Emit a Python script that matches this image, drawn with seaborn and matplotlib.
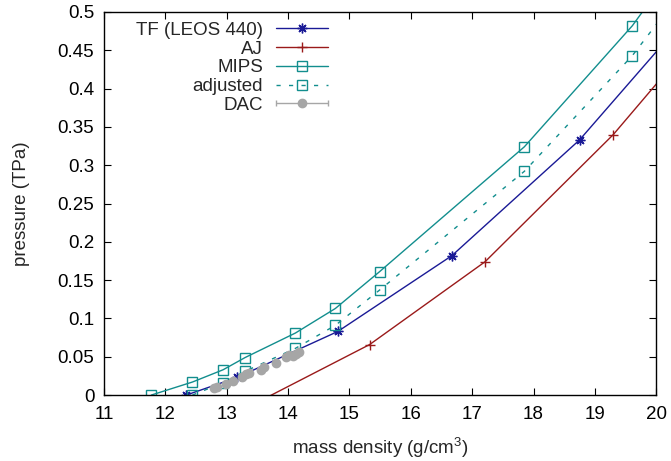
import matplotlib
matplotlib.use("Agg")
import matplotlib.pyplot as plt
import seaborn as sns
from matplotlib.legend_handler import HandlerErrorbar

# ---- data ----
tf_density = [12.34, 13.17, 14.81, 16.67, 18.75, 21.0]
tf_pressure = [0.0, 0.023, 0.083, 0.182, 0.333, 0.54]

aj_density = [13.0, 15.33, 17.21, 19.30, 21.0]
aj_pressure = [-0.03, 0.066, 0.174, 0.340, 0.50]

mips_density = [11.77, 12.44, 12.94, 13.30, 14.12, 14.77, 15.49, 17.85, 19.61, 21.5]
mips_pressure = [0.0, 0.017, 0.033, 0.049, 0.081, 0.113, 0.161, 0.324, 0.482, 0.69]

adj_density = [12.44, 12.94, 13.30, 14.12, 14.77, 15.49, 17.85, 19.61, 21.5]
adj_pressure = [0.0, 0.016, 0.031, 0.061, 0.091, 0.137, 0.292, 0.443, 0.64]

dac_density = [12.80, 12.84, 12.99, 13.10, 13.25, 13.32, 13.37, 13.56, 13.61,
               13.81, 13.97, 14.02, 14.08, 14.13, 14.17]
dac_pressure = [0.009, 0.010, 0.015, 0.019, 0.023, 0.028, 0.029, 0.033, 0.037,
                0.042, 0.050, 0.052, 0.051, 0.054, 0.056]

x_ticks = [11, 12, 13, 14, 15, 16, 17, 18, 19, 20]
y_ticks = [0, 0.05, 0.1, 0.15, 0.2, 0.25, 0.3, 0.35, 0.4, 0.45, 0.5]
y_ticklabels = ["0", "0.05", "0.1", "0.15", "0.2", "0.25", "0.3", "0.35", "0.4", "0.45", "0.5"]

# ---- style ----
sns.set_theme(style="ticks")
plt.rcParams["font.family"] = ["Liberation Sans", "DejaVu Sans"]
plt.rcParams["mathtext.fontset"] = "custom"
plt.rcParams["mathtext.rm"] = "Liberation Sans"
plt.rcParams["mathtext.it"] = "Liberation Sans:italic"
plt.rcParams["axes.linewidth"] = 1.0

FS = 13.5
c_tf = "#1a1a96"
c_aj = "#9a1a1a"
c_mips = "#128e8e"
c_dac = "#a6a6a6"

fig = plt.figure(figsize=(6.71, 4.61), dpi=100)
ax = fig.add_axes([0.155, 0.143, 0.823, 0.831])

sns.lineplot(x=tf_density, y=tf_pressure, ax=ax, color=c_tf, lw=1.0,
             marker=(8, 2, 0), markersize=7, markeredgewidth=1.0,
             markeredgecolor=c_tf, label="TF (LEOS 440)", sort=False)
sns.lineplot(x=aj_density, y=aj_pressure, ax=ax, color=c_aj, lw=1.0,
             marker="+", markersize=7, markeredgewidth=1.0,
             markeredgecolor=c_aj, label="AJ", sort=False)
sns.lineplot(x=mips_density, y=mips_pressure, ax=ax, color=c_mips, lw=1.0,
             marker="s", markersize=6.5, markerfacecolor="none",
             markeredgecolor=c_mips, markeredgewidth=1.0, label="MIPS", sort=False)
sns.lineplot(x=adj_density, y=adj_pressure, ax=ax, color=c_mips, lw=1.0,
             marker="s", markersize=6.5, markerfacecolor="none",
             markeredgecolor=c_mips, markeredgewidth=1.0, label="adjusted", sort=False)
ax.lines[-1].set_linestyle((0, (3, 6)))

dac = ax.errorbar(dac_density, dac_pressure, xerr=[0.0] * len(dac_density),
                  fmt="o", color=c_dac, ecolor=c_dac, markersize=6,
                  capsize=2.2, elinewidth=1.0, capthick=1.0, label="DAC", zorder=3)

ax.set_xlim(11, 20)
ax.set_ylim(0, 0.5)
ax.set_xticks(x_ticks)
ax.set_yticks(y_ticks)
ax.set_yticklabels(y_ticklabels)
ax.tick_params(direction="in", top=True, right=True, length=5, width=0.8,
               labelsize=FS, colors="black")
ax.tick_params(axis="y", pad=7)
ax.tick_params(axis="x", pad=8)
for s in ax.spines.values():
    s.set_visible(True)
    s.set_color("black")

ax.set_xlabel("mass density (g/cm$^3$)", fontsize=FS, labelpad=9)
ax.set_ylabel("pressure (TPa)", fontsize=FS, labelpad=20)

handles, labels = ax.get_legend_handles_labels()
leg = ax.legend(handles, labels, loc="upper right", bbox_to_anchor=(0.406, 0.975),
                frameon=False, markerfirst=False, fontsize=FS, handlelength=2.77,
                handletextpad=0.7, labelspacing=0.09, borderpad=0, borderaxespad=0,
                handler_map={type(dac): HandlerErrorbar(xerr_size=1.385)})

fig.savefig("out.png", dpi=100)
